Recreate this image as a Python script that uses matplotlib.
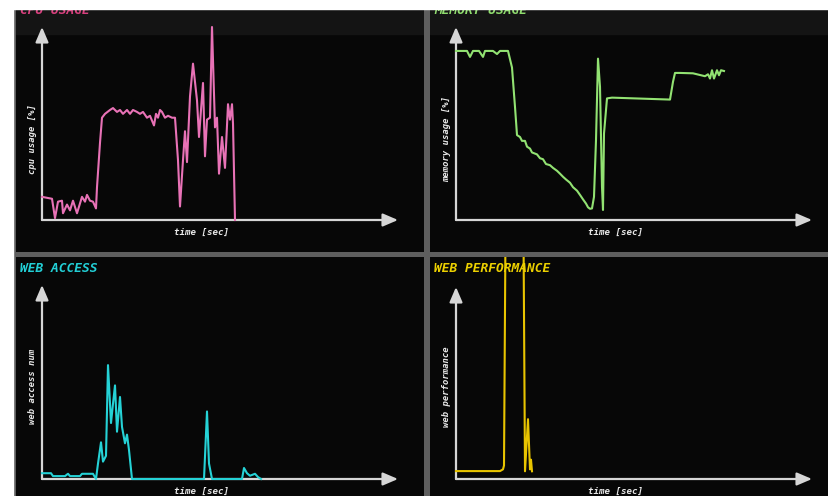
import matplotlib
matplotlib.use("Agg")
import matplotlib.pyplot as plt
from matplotlib.patches import Rectangle

# ---------------- data ----------------
cpu_time = [0, 10, 13, 16, 20, 21, 25, 28, 31, 35, 40, 43, 45, 48, 51, 54, 55, 58, 60, 63,
            68, 71, 75, 78, 81, 85, 88, 91, 95, 98, 101, 105, 108, 112, 114, 116, 118, 120, 123, 126,
            130, 133, 136, 138, 141, 143, 145, 148, 151, 155, 157, 161, 163, 165, 168, 170, 173, 175, 177, 180,
            183, 186, 188, 190, 191, 193]
cpu_usage = [12, 11, 1, 9.5, 10, 3.5, 8, 5, 10, 3.5, 12, 9.5, 13, 10, 9.5, 6, 17, 40, 53, 55,
             57, 58, 56, 57, 55, 57, 55, 57, 56, 55, 56, 53, 54, 49, 55, 53, 57, 56, 53, 54,
             53, 53, 31, 7, 31, 46, 30, 64, 81, 62, 43, 71, 33, 52, 53, 100, 48, 53, 24, 43,
             27, 60, 52, 60, 50, 0]

mem_time = [0, 11, 14, 17, 23, 27, 29, 37, 41, 44, 52, 56, 59, 61, 64, 66, 69, 71, 74, 76,
            81, 84, 87, 90, 94, 97, 101, 104, 107, 110, 114, 117, 121, 124, 127, 130, 132, 134, 136, 138,
            140, 142, 144, 146, 147, 148, 151, 156, 214, 217, 219, 224, 237, 249, 252, 254, 256, 258, 261, 263,
            265, 268]
mem_usage = [87.6, 87.6, 84.5, 87.6, 87.6, 84.5, 87.6, 87.6, 86, 87.6, 87.6, 79, 58.6, 44, 43, 41, 41, 38, 37, 35,
             34, 32, 31.5, 29, 28.4, 27, 25.5, 24, 22.4, 21, 19.3, 17, 15.2, 13, 10.7, 8.5, 6.6, 5.8, 6, 12,
             41.4, 83.6, 69, 17.2, 5.2, 44.8, 63, 63.4, 62.4, 71.6, 76.2, 76.2, 76, 74.5, 75.5, 73.3, 77.6, 73.3, 77.6, 75,
             77.6, 77.2]

web_time = [0, 9, 11, 23, 26, 28, 38, 40, 51, 54, 56, 59, 61, 64, 66, 69, 71, 73, 75, 78,
            80, 83, 85, 87, 90, 162, 165, 167, 170, 200, 202, 205, 208, 213, 216, 219]
web_access = [3, 3, 1.5, 1.5, 2.7, 1.5, 1.5, 2.7, 2.7, 0, 8, 19, 9, 12, 59, 29, 39, 48.5, 24.5, 42.5,
              27, 18.5, 23, 15, 0, 0, 35, 8, 0, 0, 5.7, 3, 1.7, 2.7, 1, 0]

perf_time = [0, 44, 47, 48, 51, 66, 69, 72, 74, 75, 76]
web_perf = [4.1, 4.1, 5, 7, 250, 250, 4, 31, 5, 10, 4]

titles = ["CPU USAGE", "MEMORY USAGE", "WEB ACCESS", "WEB PERFORMANCE"]
ylabels = ["cpu usage [%]", "memory usage [%]", "web access num", "web performance"]
xlabel = "time [sec]"

# ---------------- layout (pixel geometry of the screenshot) ----------------
W, H = 829, 496
KY = 1.93  # pixels per value unit
fig = plt.figure(figsize=(W / 100, H / 100), dpi=100)
fig.patch.set_facecolor("#5e5e5e")

def fx(px):
    return px / W

def fy(py):
    return 1 - py / H

panels = [
    # (x0, y0, x1, y1, origin_x, origin_y, tip_x, tip_y)
    (16, 0, 424, 252, 42, 220, 398, 27),
    (430, 0, 830, 252, 456, 220, 812, 27),
    (16, 257, 424, 497, 42, 479, 398, 285),
    (430, 257, 830, 497, 456, 479, 812, 287),
]
series = [(cpu_time, cpu_usage), (mem_time, mem_usage), (web_time, web_access), (perf_time, web_perf)]
line_colors = ["#e872b6", "#92e272", "#25d2d6", "#e8c400"]
title_colors = ["#d8407e", "#8fdc6e", "#22cfd6", "#ecd000"]
axis_col = "#d6d6d6"
font = dict(family="DejaVu Sans Mono", weight="bold", style="italic")

for i, (x0, y0, x1, y1, ox, oy, tx, ty) in enumerate(panels):
    ax = fig.add_axes([fx(x0), fy(y1), (x1 - x0) / W, (y1 - y0) / H])
    ax.set_facecolor("#070707")
    ax.set_xlim(x0 - ox, x1 - ox)
    ax.set_ylim(-(y1 - oy) / KY, (oy - y0) / KY)
    ax.set_axis_off()
    ax.add_patch(Rectangle((0, 0), 1, 1, transform=ax.transAxes, color="#070707", zorder=0))
    if i < 2:
        ax.add_patch(Rectangle((0, (y1 - 34) / (y1 - y0)), 1, 1, transform=ax.transAxes,
                               color="#141414", zorder=0.5))
    # axes arrows
    xmax = tx - ox
    ymax = (oy - ty) / KY
    arrow = dict(arrowstyle="-|>,head_length=0.7,head_width=0.3", color=axis_col, lw=1.6,
                 mutation_scale=13, shrinkA=0, shrinkB=0)
    ax.annotate("", xy=(xmax, 0), xytext=(0, 0), arrowprops=arrow, zorder=2)
    ax.annotate("", xy=(0, ymax), xytext=(0, 0), arrowprops=arrow, zorder=2)
    t, v = series[i]
    ax.plot(t, v, color=line_colors[i], lw=1.5, zorder=3, solid_joinstyle="round")

    # texts
    if i < 2:
        fig.text(fx(x0 + 4), fy(13.5), titles[i], color=title_colors[i], fontsize=9.3,
                 ha="left", va="baseline", zorder=4, **font)
    else:
        fig.text(fx(x0 + 4), fy(y0 + 15.5), titles[i], color=title_colors[i], fontsize=9.3,
                 ha="left", va="baseline", zorder=4, **font)
    fig.text(fx(ox + 160), fy(oy + 12), xlabel, color="#e8e8e8", fontsize=6.6,
             ha="center", va="center", zorder=4, **font)
    ycent = oy - (oy - ty) * (0.42 if i < 2 else 0.48)
    fig.text(fx(ox - 9), fy(ycent), ylabels[i], color="#e8e8e8", fontsize=6.4,
             rotation=90, ha="center", va="center", zorder=4, **font)

# white margins of the screenshot
fig.patches.append(Rectangle((0, fy(8.5)), 1, 1, transform=fig.transFigure,
                             color="white", zorder=10))
fig.patches.append(Rectangle((0, 0), fx(13), 1, transform=fig.transFigure,
                             color="white", zorder=10))

fig.savefig("out.png", dpi=100, facecolor=fig.get_facecolor())
